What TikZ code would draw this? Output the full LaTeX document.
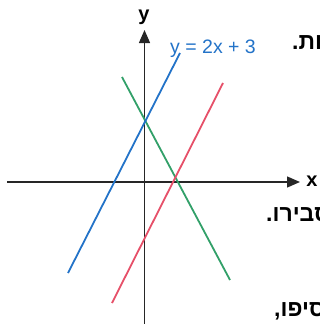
\documentclass[tikz,border=0pt]{standalone}
\usepackage{fontspec}
\setmainfont{Liberation Sans}
\newfontfamily\hebfont[Script=Hebrew]{Liberation Sans}
\TeXXeTstate=1
\usetikzlibrary{arrows.meta}
\definecolor{lblue}{RGB}{35,115,200}
\definecolor{lgreen}{RGB}{50,160,105}
\definecolor{lred}{RGB}{230,80,105}
\begin{document}
\begin{tikzpicture}[x=1pt,y=-1pt,
  axis/.style={line width=1.3pt,black!85,-{Triangle[length=13pt,width=11pt]}},
  graphline/.style={line width=1.8pt},
  axlabel/.style={font=\fontsize{20}{20}\selectfont\bfseries,inner sep=0pt},
  hebtext/.style={font=\hebfont\fontsize{23}{23}\selectfont\bfseries,inner sep=0pt,anchor=base west}]
\useasboundingbox (0,0) rectangle (320,324);
\clip (0,0) rectangle (320,324);
% axes
\coordinate (xs) at (7,182);
\coordinate (xe) at (300,182);
\coordinate (ys) at (144.5,324);
\coordinate (ye) at (144.5,30);
\draw[axis] (xs) -- (xe);
\draw[axis] (ys) -- (ye);
\node[axlabel,anchor=base] (xl) at (312,186) {x};
\node[axlabel,anchor=base] (yl) at (144,20) {y};
% lines
\coordinate (b1) at (68,273);
\coordinate (b2) at (180,53);
\coordinate (g1) at (122,77);
\coordinate (g2) at (230,280);
\coordinate (r1) at (112,303);
\coordinate (r2) at (223,83);
\draw[graphline,lgreen] (g1) -- (g2);
\draw[graphline,lblue] (b1) -- (b2);
\draw[graphline,lred] (r1) -- (r2);
\node[inner sep=0pt,text=lblue,font=\fontsize{19.5}{19.5}\selectfont,anchor=base west] (lab) at (170,53) {y = 2x + 3};
% Hebrew fragments (cut at the right edge, as in the reference)
\node[hebtext] (h1) at (292,49) {\beginR ות.\endR};
\node[hebtext] (h2) at (266,221) {\beginR סבירו.\endR};
\node[hebtext] (h3) at (274,316) {\beginR סיפו,\endR};
\end{tikzpicture}
\end{document}
